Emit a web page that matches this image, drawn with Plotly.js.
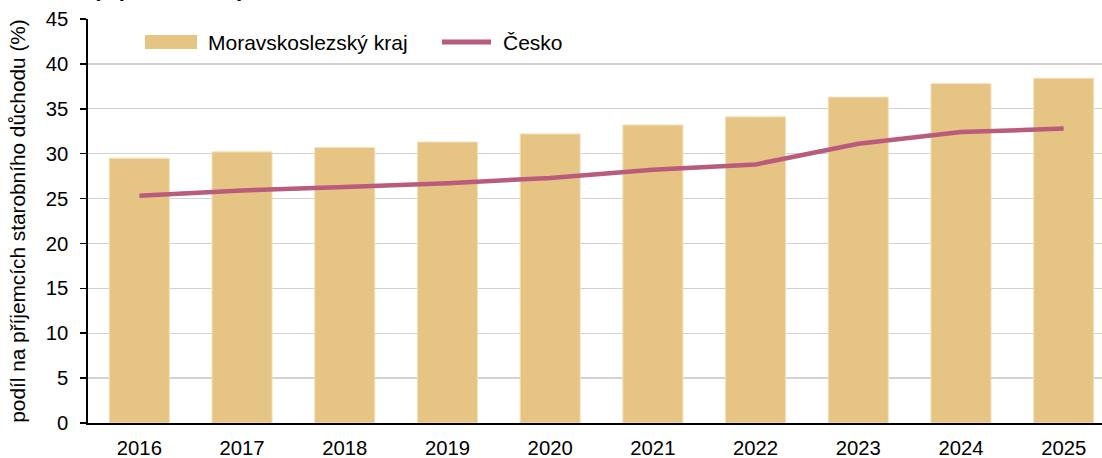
<!DOCTYPE html>
<html>
<head>
<meta charset="utf-8">
<script src="https://cdn.plot.ly/plotly-3.0.1.min.js"></script>
<style>
html,body{margin:0;padding:0;background:#fff;overflow:hidden;}
#chart{width:1102px;height:458px;}
</style>
</head>
<body>
<div id="chart"></div>
<script>
const years = ['2016','2017','2018','2019','2020','2021','2022','2023','2024','2025'];
const msk = [29.5, 30.2, 30.7, 31.3, 32.2, 33.2, 34.1, 36.3, 37.8, 38.4];
const cesko = [25.3, 25.9, 26.3, 26.7, 27.3, 28.2, 28.8, 31.1, 32.4, 32.8];
const seriesNames = ['Moravskoslezský kraj', 'Česko'];
const titleText = '(v procentech)';
const yTitle = 'podíl na příjemcích starobního důchodu (%)';

const barColor = '#E5C484';
const lineColor = '#B85B7D';
const font = 'Liberation Sans, Arial, sans-serif';

const traces = [
  {type:'bar', x: years, y: msk, name: seriesNames[0], width: 0.585,
   marker:{color: barColor, line:{color:'#F2E2BE', width:1}}, showlegend:false, hoverinfo:'x+y'},
  {type:'scatter', mode:'lines', x: years, y: cesko, name: seriesNames[1],
   line:{color: lineColor, width: 4.5}, showlegend:false}
];

const L = 88, T = 19, B = 423, W = 1014, H = 404;
const px = v => (v - L) / W;
const py = v => (B - v) / H;

const layout = {
  width: 1102, height: 458,
  margin: {l: L, r: 0, t: T, b: 458 - B, pad: 0},
  paper_bgcolor: '#fff', plot_bgcolor: '#fff',
  font: {family: font, size: 20, color: '#000'},
  bargap: 0.4,
  xaxis: {
    type: 'category', range: [-0.5, 9.373],
    showline: true, linecolor: '#000', linewidth: 1.6,
    ticks: '', showgrid: false, zeroline: false,
    tickfont: {size: 20.3}, ticklabelstandoff: 6, fixedrange: true
  },
  yaxis: {
    range: [0, 45], dtick: 5, tick0: 0,
    showline: true, linecolor: '#000', linewidth: 1.6,
    ticks: 'outside', ticklen: 6, tickwidth: 1.5, tickcolor: '#000',
    showgrid: true, gridcolor: '#D2D2D2', gridwidth: 1.4,
    zeroline: false, tickfont: {size: 20.3}, ticklabelstandoff: 8,
    title: {text: yTitle, font: {size: 20.8}, standoff: 14}, fixedrange: true
  },
  shapes: [
    {type:'rect', xref:'paper', yref:'paper', x0: px(145), x1: px(197), y0: py(49), y1: py(35),
     fillcolor: barColor, line:{width:0}},
    {type:'line', xref:'paper', yref:'paper', x0: px(442), x1: px(491), y0: py(42), y1: py(42),
     line:{color: lineColor, width: 5}}
  ],
  annotations: [
    {xref:'paper', yref:'paper', x: px(206), y: py(42), xanchor:'left', yanchor:'middle',
     text: seriesNames[0], showarrow:false, font:{size:21}},
    {xref:'paper', yref:'paper', x: px(501), y: py(42), xanchor:'left', yanchor:'middle',
     text: seriesNames[1], showarrow:false, font:{size:21}},
    {xref:'paper', yref:'paper', x: px(91), y: py(3.2), xanchor:'left', yanchor:'bottom',
     text: '<b>' + titleText + '</b>', showarrow:false, font:{size:22}}
  ]
};

Plotly.newPlot('chart', traces, layout, {displayModeBar: false, staticPlot: true});
</script>
</body>
</html>
